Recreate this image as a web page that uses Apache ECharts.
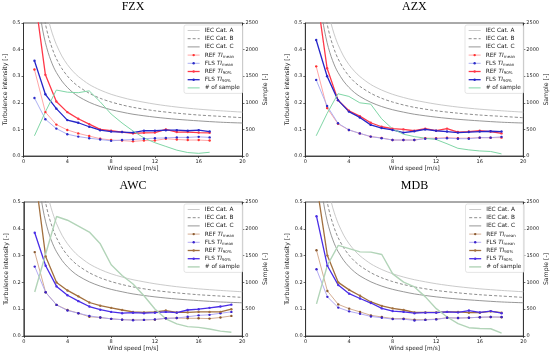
<!DOCTYPE html>
<html><head><meta charset="utf-8">
<script src="https://cdn.jsdelivr.net/npm/echarts@6/dist/echarts.min.js"></script>
<style>html,body{margin:0;padding:0;background:#fff}#c{width:550px;height:354px}</style>
</head><body><div id="c"></div>
<script>
// ---------- data ----------
const panelTitles = ['FZX', 'AZX', 'AWC', 'MDB'];
const xTicksMax = 20;

const fzxSpeed   = [1,2,3,4,5,6,7,8,9,10,11,12,13,14,15,16,17];
const fzxRefMean = [0.325,0.165,0.118,0.098,0.085,0.075,0.065,0.060,0.058,0.055,0.058,0.058,0.065,0.062,0.060,0.060,0.058];
const fzxFlsMean = [0.218,0.138,0.103,0.082,0.073,0.067,0.062,0.057,0.060,0.062,0.065,0.067,0.068,0.070,0.070,0.072,0.070];
const fzxRef90   = [0.610,0.305,0.205,0.165,0.140,0.120,0.100,0.095,0.090,0.085,0.087,0.088,0.100,0.090,0.090,0.088,0.087];
const fzxFls90   = [0.358,0.232,0.178,0.135,0.125,0.110,0.097,0.092,0.090,0.088,0.095,0.095,0.097,0.097,0.095,0.097,0.092];
const fzxSamples = [380,830,1240,1200,1190,1225,1020,790,620,470,340,250,180,110,65,50,70];

const azxSpeed   = [1,2,3,4,5,6,7,8,9,10,11,12,13,14,15,16,17,18];
const azxRefMean = [0.337,0.180,0.121,0.098,0.085,0.073,0.068,0.060,0.060,0.060,0.067,0.067,0.069,0.067,0.067,0.069,0.069,0.069];
const azxFlsMean = [0.286,0.188,0.123,0.098,0.085,0.073,0.067,0.060,0.060,0.060,0.065,0.065,0.067,0.065,0.065,0.069,0.069,0.072];
const azxRef90   = [0.620,0.330,0.210,0.170,0.150,0.125,0.110,0.103,0.100,0.095,0.103,0.095,0.103,0.090,0.092,0.095,0.092,0.085];
const azxFls90   = [0.436,0.300,0.210,0.167,0.145,0.117,0.105,0.098,0.088,0.093,0.100,0.095,0.092,0.088,0.090,0.092,0.093,0.092];
const azxSamples = [380,800,1170,1120,1000,975,700,510,410,365,335,310,230,145,115,95,85,40];

const awcSpeed   = [1,2,3,4,5,6,7,8,9,10,11,12,13,14,15,16,17,18,19];
const awcRefMean = [0.313,0.163,0.116,0.097,0.085,0.072,0.069,0.064,0.061,0.060,0.060,0.061,0.066,0.067,0.066,0.066,0.065,0.069,0.075];
const awcFlsMean = [0.259,0.163,0.116,0.095,0.085,0.075,0.069,0.064,0.061,0.059,0.060,0.062,0.066,0.067,0.072,0.077,0.079,0.085,0.090];
const awcRef90   = [0.610,0.297,0.200,0.170,0.148,0.125,0.113,0.105,0.097,0.090,0.088,0.090,0.095,0.088,0.088,0.090,0.090,0.090,0.100];
const awcFls90   = [0.385,0.262,0.185,0.152,0.130,0.110,0.098,0.090,0.085,0.087,0.085,0.087,0.090,0.087,0.097,0.100,0.105,0.110,0.117];
const awcSamples = [820,1530,2230,2160,2050,1940,1720,1330,1130,970,750,505,320,225,175,160,130,90,70];

const mdbSpeed   = [1,2,3,4,5,6,7,8,9,10,11,12,13,14,15,16,17,18];
const mdbRefMean = [0.320,0.168,0.118,0.102,0.090,0.077,0.071,0.065,0.065,0.061,0.061,0.063,0.068,0.067,0.068,0.070,0.071,0.070];
const mdbFlsMean = [0.249,0.146,0.106,0.092,0.083,0.073,0.068,0.063,0.063,0.058,0.060,0.062,0.068,0.067,0.068,0.070,0.071,0.071];
const mdbRef90   = [0.570,0.300,0.200,0.172,0.150,0.127,0.112,0.103,0.097,0.088,0.088,0.088,0.090,0.090,0.087,0.087,0.092,0.087];
const mdbFls90   = [0.447,0.262,0.190,0.158,0.140,0.123,0.103,0.093,0.090,0.085,0.087,0.087,0.090,0.088,0.095,0.088,0.093,0.085];
const mdbSamples = [600,1320,1690,1630,1570,1565,1520,1160,1005,915,730,510,355,230,155,140,135,55];

// IEC reference curves (values read at these wind speeds)
const iecSpeed = [1.25,1.5,1.75,2,2.25,2.5,2.75,3,3.5,4,4.5,5,6,7,8,9,10,12,14,16,18,20];
const iecCatA  = [0.837,0.717,0.632,0.568,0.518,0.478,0.446,0.419,0.376,0.344,0.319,0.299,0.269,0.248,0.232,0.220,0.210,0.195,0.184,0.176,0.170,0.165];
const iecCatB  = [0.732,0.628,0.553,0.497,0.453,0.419,0.390,0.366,0.329,0.301,0.279,0.262,0.236,0.217,0.203,0.192,0.183,0.170,0.161,0.154,0.149,0.144];
const iecCatC  = [0.628,0.538,0.474,0.426,0.389,0.359,0.334,0.314,0.282,0.258,0.239,0.224,0.202,0.186,0.174,0.165,0.157,0.146,0.138,0.132,0.127,0.124];

const legendLabels = {
  catA: '{n|IEC Cat. A}', catB: '{n|IEC Cat. B}', catC: '{n|IEC Cat. C}',
  refMean: '{n|REF }{i|TI}{s|mean}', flsMean: '{n|FLS }{i|TI}{s|mean}',
  ref90: '{n|REF }{i|TI}{s|90%}', fls90: '{n|FLS }{i|TI}{s|90%}',
  samples: '{n|# of sample}'
};

// ---------- layout / style ----------
const grids = [
  {left: 23.5, top: 23, width: 219, height: 133},
  {left: 305.3, top: 23, width: 218, height: 133},
  {left: 23.8, top: 202, width: 218.5, height: 134},
  {left: 305.6, top: 202, width: 217.8, height: 134}
];
const legendPos = [[184, 25], [465, 25], [184, 204], [465.5, 204]];
const topColors = {refMeanLine:'#ff9c9c', refMeanDot:'#ff3030', flsMeanLine:'#a4a8f0', flsMeanDot:'#2c2cc8',
  ref90:'#ff3848', fls90:'#2626c8', samples:'#80d6a6', sampleW: 1};
const botColors = {refMeanLine:'#cfa486', refMeanDot:'#8a5a30', flsMeanLine:'#aaa2f0', flsMeanDot:'#3a22cc',
  ref90:'#a2703e', fls90:'#4a2ee6', samples:'#b2d4b8', sampleW: 1.4};

const panels = [
  {speed: fzxSpeed, refMean: fzxRefMean, flsMean: fzxFlsMean, ref90: fzxRef90, fls90: fzxFls90, samples: fzxSamples, c: topColors},
  {speed: azxSpeed, refMean: azxRefMean, flsMean: azxFlsMean, ref90: azxRef90, fls90: azxFls90, samples: azxSamples, c: topColors},
  {speed: awcSpeed, refMean: awcRefMean, flsMean: awcFlsMean, ref90: awcRef90, fls90: awcFls90, samples: awcSamples, c: botColors},
  {speed: mdbSpeed, refMean: mdbRefMean, flsMean: mdbFlsMean, ref90: mdbRef90, fls90: mdbFls90, samples: mdbSamples, c: botColors}
];

const FONT = 'DejaVu Sans';
const axisColor = '#2a2a2a';
const pair = (xs, ys) => xs.map((x, i) => [x, ys[i]]);

const xAxes = [], yAxes = [], series = [], legends = [], graphics = [];
panels.forEach((p, k) => {
  xAxes.push({
    type: 'value', gridIndex: k, min: 0, max: xTicksMax, interval: 4,
    axisLine: {show: true, lineStyle: {color: axisColor, width: 0.8}},
    axisTick: {show: true, length: 2, lineStyle: {color: axisColor, width: 0.7}},
    axisLabel: {fontSize: 5, fontFamily: FONT, color: '#222', margin: 3, formatter: v => String(v)},
    splitLine: {show: false},
    name: 'Wind speed [m/s]', nameLocation: 'middle', nameGap: 9,
    nameTextStyle: {fontSize: 5.8, fontFamily: FONT, color: '#222'}
  });
  yAxes.push({
    type: 'value', gridIndex: k, min: 0, max: 0.5, interval: 0.1,
    axisLine: {show: true, lineStyle: {color: axisColor, width: 0.8}},
    axisTick: {show: true, length: 2, lineStyle: {color: axisColor, width: 0.7}},
    axisLabel: {fontSize: 5, fontFamily: FONT, color: '#222', margin: 3, showMinLabel: true, formatter: v => v.toFixed(1)},
    splitLine: {show: false},
    name: 'Turbulence intensity [-]', nameLocation: 'middle', nameGap: 13, nameRotate: 90,
    nameTextStyle: {fontSize: 6.2, fontFamily: FONT, color: '#222'}
  });
  yAxes.push({
    type: 'value', gridIndex: k, min: 0, max: 2500, interval: 500, position: 'right',
    axisLine: {show: true, lineStyle: {color: axisColor, width: 0.8}},
    axisTick: {show: true, length: 2, lineStyle: {color: axisColor, width: 0.7}},
    axisLabel: {fontSize: 5, fontFamily: FONT, color: '#222', margin: 3, formatter: v => String(v)},
    splitLine: {show: false},
    name: 'Sample [-]', nameLocation: 'middle', nameGap: 19, nameRotate: 90,
    nameTextStyle: {fontSize: 6.2, fontFamily: FONT, color: '#222'}
  });
  const yL = 2 * k, yR = 2 * k + 1;
  const c = p.c;
  const nm = key => k + '_' + key;
  const base = {type: 'line', xAxisIndex: k, yAxisIndex: yL, clip: true, animation: false, silent: true};
  series.push(Object.assign({}, base, {name: nm('catA'), data: pair(iecSpeed, iecCatA), symbol: 'none', smooth: 0.3,
    lineStyle: {color: '#c4c4c4', width: 0.9}, itemStyle: {color: '#c4c4c4'}}));
  series.push(Object.assign({}, base, {name: nm('catB'), data: pair(iecSpeed, iecCatB), symbol: 'none', smooth: 0.3,
    lineStyle: {color: '#808080', width: 0.9, type: [3, 2]}, itemStyle: {color: '#808080'}}));
  series.push(Object.assign({}, base, {name: nm('catC'), data: pair(iecSpeed, iecCatC), symbol: 'none', smooth: 0.3,
    lineStyle: {color: '#8c8c8c', width: 0.9}, itemStyle: {color: '#8c8c8c'}}));
  series.push(Object.assign({}, base, {name: nm('refMean'), data: pair(p.speed, p.refMean), symbol: 'circle', symbolSize: 2.4,
    lineStyle: {color: c.refMeanLine, width: 0.9}, itemStyle: {color: c.refMeanDot}}));
  series.push(Object.assign({}, base, {name: nm('flsMean'), data: pair(p.speed, p.flsMean), symbol: 'circle', symbolSize: 2.4,
    lineStyle: {color: c.flsMeanLine, width: 0.9}, itemStyle: {color: c.flsMeanDot}}));
  series.push(Object.assign({}, base, {name: nm('ref90'), data: pair(p.speed, p.ref90), symbol: 'circle', symbolSize: 2.4,
    lineStyle: {color: c.ref90, width: 1.3}, itemStyle: {color: c.ref90}}));
  series.push(Object.assign({}, base, {name: nm('fls90'), data: pair(p.speed, p.fls90), symbol: 'circle', symbolSize: 2.4,
    lineStyle: {color: c.fls90, width: 1.3}, itemStyle: {color: c.fls90}}));
  series.push(Object.assign({}, base, {name: nm('samples'), yAxisIndex: yR, data: pair(p.speed, p.samples), symbol: 'none',
    lineStyle: {color: c.samples, width: c.sampleW}, itemStyle: {color: c.samples}}));

  const hideDot = {color: 'rgba(0,0,0,0)', borderWidth: 0, opacity: 0};
  legends.push({
    orient: 'vertical', left: legendPos[k][0], top: legendPos[k][1],
    itemWidth: 12, itemHeight: 3, itemGap: 1.2, padding: [2, 3, 2, 3],
    borderColor: '#d4d4d4', borderWidth: 0.6, borderRadius: 2, backgroundColor: 'rgba(255,255,255,0.85)',
    selectedMode: false, lineStyle: {width: 'inherit'},
    data: [
      {name: nm('catA'), itemStyle: hideDot}, {name: nm('catB'), itemStyle: hideDot}, {name: nm('catC'), itemStyle: hideDot},
      {name: nm('refMean')}, {name: nm('flsMean')}, {name: nm('ref90')}, {name: nm('fls90')},
      {name: nm('samples'), itemStyle: hideDot}
    ],
    formatter: name => legendLabels[name.split('_')[1]],
    textStyle: {
      fontSize: 5.8, fontFamily: FONT, color: '#222', lineHeight: 7,
      rich: {
        n: {fontSize: 5.8, fontFamily: FONT, color: '#222', lineHeight: 7},
        i: {fontSize: 5.8, fontFamily: FONT, color: '#222', fontStyle: 'italic', lineHeight: 7},
        s: {fontSize: 4, fontFamily: FONT, color: '#222', lineHeight: 7, verticalAlign: 'bottom'}
      }
    }
  });
  const g = grids[k];
  graphics.push({type: 'text', x: g.left + g.width / 2, y: g.top - 16, silent: true,
    style: {text: panelTitles[k], font: '12px "Liberation Serif"', fill: '#000', align: 'center', verticalAlign: 'middle'}});
});

const chart = echarts.init(document.getElementById('c'), null, {renderer: 'canvas'});
chart.setOption({
  animation: false,
  backgroundColor: '#fff',
  grid: grids.map(g => Object.assign({show: true, borderColor: axisColor, borderWidth: 0.8, backgroundColor: 'transparent'}, g)),
  xAxis: xAxes, yAxis: yAxes, series: series, legend: legends, graphic: graphics
});
</script></body></html>
